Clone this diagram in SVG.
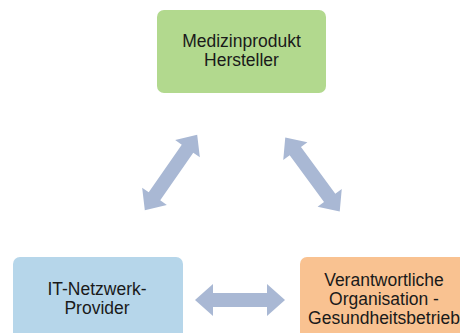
<svg xmlns="http://www.w3.org/2000/svg" width="460" height="333" viewBox="0 0 460 333">
<style>
.lbl{font-family:"Liberation Sans",Arial,sans-serif;font-size:17.5px;fill:#1a1a1a;text-anchor:middle}
.arr{fill:#a9b8d4}
</style>
<defs>
<path id="dbl90" d="M-45,0 L-27,-16 L-27,-7 L27,-7 L27,-16 L45,0 L27,16 L27,7 L-27,7 L-27,16 Z"/>
<path id="dbl92" d="M-46,0 L-29,-15 L-29,-7 L29,-7 L29,-15 L46,0 L29,15 L29,7 L-29,7 L-29,15 Z"/>
</defs>
<rect width="460" height="333" fill="#ffffff"/>
<g id="connectors">
<use href="#dbl92" class="arr" transform="translate(171,172.5) rotate(-55.3)"/>
<use href="#dbl92" class="arr" transform="translate(312.5,174.5) rotate(53.7)"/>
<use href="#dbl90" class="arr" transform="translate(240,300)"/>
</g>
<g id="hersteller">
<rect x="157" y="10" width="169" height="83" rx="7" fill="#b2d98e"/>
<text class="lbl" x="241.5" y="47">Medizinprodukt</text>
<text class="lbl" x="241.5" y="66">Hersteller</text>
</g>
<g id="provider">
<rect x="13" y="257" width="170" height="90" rx="7" fill="#b6d6ea"/>
<text class="lbl" x="97" y="295">IT-Netzwerk-</text>
<text class="lbl" x="97" y="314">Provider</text>
</g>
<g id="organisation">
<rect x="300" y="257" width="175" height="90" rx="7" fill="#f9c291"/>
<text class="lbl" x="384" y="286">Verantwortliche</text>
<text class="lbl" x="384" y="305">Organisation -</text>
<text class="lbl" x="384" y="324">Gesundheitsbetrieb</text>
</g>
</svg>
